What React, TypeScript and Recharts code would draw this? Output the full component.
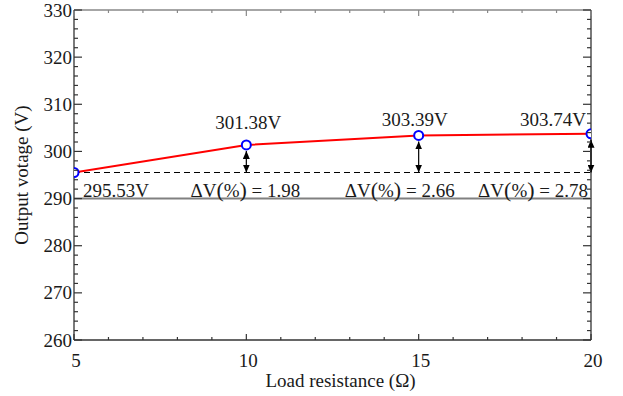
import React from 'react';
import { LineChart, Line, XAxis, YAxis, ReferenceLine, ReferenceDot, LabelList } from 'recharts';

const loads = [5, 10, 15, 20];
const voltages = [295.53, 301.38, 303.39, 303.74];
const valueLabels = ['295.53V', '301.38V', '303.39V', '303.74V'];
const dvLoads = [10, 15, 20];
const dvValues = ['1.98', '2.66', '2.78'];
const baseVoltage = 295.53;
const limitVoltage = 290;
const xTicks = [5, 6, 7, 8, 9, 10, 11, 12, 13, 14, 15, 16, 17, 18, 19, 20];
const xTickLabels = [5, 10, 15, 20];
const yTicks = [260, 262, 264, 266, 268, 270, 272, 274, 276, 278, 280, 282, 284, 286, 288, 290, 292, 294, 296, 298, 300, 302, 304, 306, 308, 310, 312, 314, 316, 318, 320, 322, 324, 326, 328, 330];
const yTickLabels = [260, 270, 280, 290, 300, 310, 320, 330];

const data = loads.map((x, i) => ({ x, v: voltages[i] }));

const W = 623;
const H = 396;
const M = { top: 10, right: 32, bottom: 0, left: 0 };
const YW = 74;
const XH = 56;
const PLOT_W = W - M.left - M.right - YW;
const PLOT_H = H - M.top - M.bottom - XH;
const FONT = '"Liberation Serif", "Times New Roman", serif';
const FS = 19;
const AXIS = '#333';
const TXT = '#1a1a1a';

const XTick = (props: any) => {
  const { x, y, payload } = props;
  const v = payload.value;
  const major = xTickLabels.includes(v);
  const len = major ? 6 : 3;
  const top = y - PLOT_H;
  return (
    <g>
      <line x1={x} y1={y} x2={x} y2={y - len} stroke={AXIS} strokeWidth={1.2} />
      <line x1={x} y1={top} x2={x} y2={top + len} stroke="#888" strokeWidth={1.2} />
      {major && (
        <text x={x + 2} y={y + 27} textAnchor="middle" fontFamily={FONT} fontSize={FS} fill={TXT}>
          {v}
        </text>
      )}
    </g>
  );
};

const YTick = (props: any) => {
  const { x, y, payload } = props;
  const v = payload.value;
  const major = yTickLabels.includes(v);
  const len = major ? 8 : 4;
  const right = x + PLOT_W;
  return (
    <g>
      <line x1={x} y1={y} x2={x + len} y2={y} stroke={AXIS} strokeWidth={1.2} />
      <line x1={right} y1={y} x2={right - len} y2={y} stroke={AXIS} strokeWidth={1.2} />
      {major && (
        <text x={x - 2} y={y + 6.5} textAnchor="end" fontFamily={FONT} fontSize={FS} fill={TXT}>
          {v}
        </text>
      )}
    </g>
  );
};

const valueOffsets = [
  { dx: 9, dy: 24.5, anchor: 'start' },
  { dx: 2, dy: -16, anchor: 'middle' },
  { dx: -4, dy: -9.5, anchor: 'middle' },
  { dx: -5, dy: -8, anchor: 'end' },
];

const ValueLabel = (props: any) => {
  const { x, y, index } = props;
  const o = valueOffsets[index];
  return (
    <text x={x + o.dx} y={y + o.dy} textAnchor={o.anchor} fontFamily={FONT} fontSize={FS} fill={TXT}>
      {valueLabels[index]}
    </text>
  );
};

const dvOffsets = [54, 36, -3];

const makeDvLabel = (i: number) => (props: any) => {
  const vb = props.viewBox || {};
  const cx = (vb.x ?? 0) + (vb.width ?? 0) / 2;
  const cy = (vb.y ?? 0) + (vb.height ?? 0) / 2;
  return (
    <text x={cx + dvOffsets[i]} y={cy - 1.5} textAnchor="end" fontFamily={FONT} fontSize={FS} fill={TXT}>
      ΔV<tspan fontSize={22}>(</tspan>%<tspan fontSize={22}>)</tspan> = {dvValues[i]}
    </text>
  );
};

const ArrowShape = (props: any) => {
  const { x1, y1, x2, y2 } = props;
  if (x1 == null) return null;
  const yTop = Math.min(y1, y2) + 6;
  const yBot = Math.max(y1, y2);
  return (
    <line
      x1={x1}
      y1={yBot}
      x2={x2}
      y2={yTop}
      stroke="#000"
      strokeWidth={1.2}
      markerStart="url(#arrowHead)"
      markerEnd="url(#arrowHead)"
    />
  );
};

export default function App() {
  return (
    <div style={{ position: 'absolute', left: 0, top: 0, width: W, height: H, background: '#fff' }}>
      <svg width={0} height={0} style={{ position: 'absolute' }}>
        <defs>
          <marker
            id="arrowHead"
            viewBox="0 0 8 7"
            refX={8}
            refY={3.5}
            markerWidth={8}
            markerHeight={7}
            markerUnits="userSpaceOnUse"
            orient="auto-start-reverse"
          >
            <path d="M0,0 L8,3.5 L0,7 z" fill="#000" />
          </marker>
        </defs>
      </svg>
      <LineChart width={W} height={H} data={data} margin={M}>
        <XAxis
          dataKey="x"
          type="number"
          domain={[5, 20]}
          ticks={xTicks}
          interval={0}
          tickLine={false}
          tickSize={0}
          tickMargin={0}
          tick={<XTick />}
          height={XH}
          stroke={AXIS}
          strokeWidth={1.3}
          allowDataOverflow
          label={{
            value: 'Load resistance (Ω)',
            position: 'insideBottom',
            offset: 9,
            dx: 8,
            style: { fontFamily: FONT, fontSize: FS, fill: TXT },
          }}
        />
        <YAxis
          type="number"
          domain={[260, 330]}
          ticks={yTicks}
          interval={0}
          tickLine={false}
          tickSize={0}
          tickMargin={0}
          tick={<YTick />}
          width={YW}
          stroke={AXIS}
          strokeWidth={1.3}
          allowDataOverflow
          label={{
            value: 'Output votage (V)',
            angle: -90,
            position: 'insideLeft',
            offset: 21,
            dy: 0,
            style: { fontFamily: FONT, fontSize: FS, fill: TXT, textAnchor: 'middle' },
          }}
        />
        <ReferenceLine y={330} stroke="#888" strokeWidth={1.3} />
        <ReferenceLine x={20} stroke={AXIS} strokeWidth={1.3} />
        <ReferenceLine y={limitVoltage} stroke="#808080" strokeWidth={2} />
        <ReferenceLine y={baseVoltage} stroke="#000" strokeWidth={1.2} strokeDasharray="6 4" />
        {dvLoads.map((x) => (
          <ReferenceLine
            key={'arr' + x}
            segment={[
              { x, y: baseVoltage },
              { x, y: voltages[loads.indexOf(x)] },
            ]}
            shape={<ArrowShape />}
          />
        ))}
        {dvLoads.map((x, i) => (
          <ReferenceDot
            key={'dv' + x}
            x={x}
            y={limitVoltage}
            r={0}
            fill="none"
            stroke="none"
            label={{ content: makeDvLabel(i) }}
          />
        ))}
        <Line
          dataKey="v"
          type="linear"
          stroke="#ff0000"
          strokeWidth={2}
          dot={{ r: 4.5, stroke: '#0000ff', strokeWidth: 2, fill: '#fff' }}
          isAnimationActive={false}
        >
          <LabelList dataKey="v" content={<ValueLabel />} />
        </Line>
      </LineChart>
    </div>
  );
}
